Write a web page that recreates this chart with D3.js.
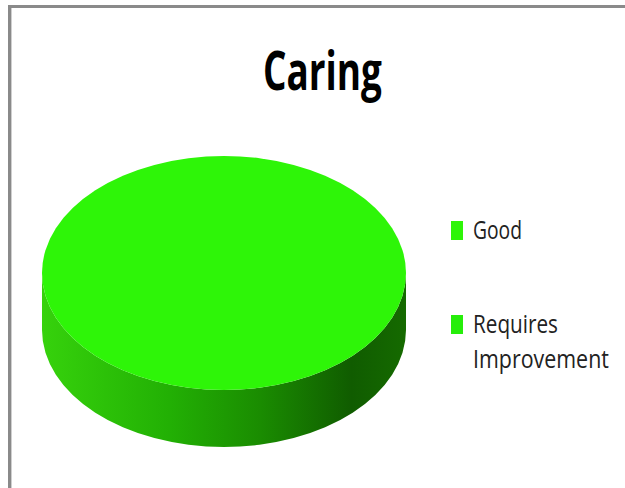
<!DOCTYPE html>
<html>
<head>
<meta charset="utf-8">
<script src="https://cdn.jsdelivr.net/npm/d3@7"></script>
<style>
  body { margin: 0; background: #fff; }
  svg { display: block; }
</style>
</head>
<body>
<div id="chart"></div>
<script>
// chart data
const categories = ["Good", "Requires Improvement"]
const values = [100, 0]
const colors = ["#2ef508", "#26ee0a"]
const title = "Caring"

const width = 625
const height = 488

// pie geometry (3D look: squashed ellipse with a side wall)
const cx = 224, cy = 273, rx = 182, ry = 117, depth = 57

const svg = d3.select("#chart")
  .append("svg")
  .attr("width", width)
  .attr("height", height)

// squeeze a text horizontally to a given width (Calibri-like narrow look)
function narrowText(sel, x, y, w, text) {
  const t = sel.append("text")
    .attr("x", 0).attr("y", 0)
    .text(text)
  return t
}
function fitText(t, x, y, w) {
  const natural = t.node().getComputedTextLength()
  t.attr("transform", "translate(" + x + "," + y + ") scale(" + (w / natural) + ",1)")
}

// gradient for the side wall
const defs = svg.append("defs")
const grad = defs.append("linearGradient")
  .attr("id", "side")
  .attr("gradientUnits", "userSpaceOnUse")
  .attr("x1", cx - rx).attr("x2", cx + rx)
  .attr("y1", 0).attr("y2", 0)
grad.selectAll("stop")
  .data([[0, "#36d20c"], [0.35, "#22b004"], [0.6, "#1a8c01"], [0.85, "#105c00"], [1, "#156a00"]])
  .enter().append("stop")
  .attr("offset", d => d[0])
  .attr("stop-color", d => d[1])

// border (only top and left show in the picture)
svg.append("rect").attr("x", 8).attr("y", 5).attr("width", width - 8).attr("height", 3).attr("fill", "#8a8a8a")
svg.append("rect").attr("x", 8).attr("y", 5).attr("width", 3).attr("height", height - 5).attr("fill", "#8a8a8a")
svg.append("rect").attr("x", 11).attr("y", 8).attr("width", 1).attr("height", height - 8).attr("fill", "#cfcfcf")

// title
const titleText = narrowText(svg, 263, 90, 119, title)
  .style("font-family", "'Open Sans', sans-serif")
  .style("font-weight", "bold")
  .style("font-size", "54px")
  .style("fill", "#000")
fitText(titleText, 263, 90, 119)

const pie = d3.pie().sort(null).value(d => d)
const arcs = pie(values)

const px = a => cx + rx * Math.sin(a)
const py = a => cy - ry * Math.cos(a)

// side wall: visible front part between angle PI/2 and 3PI/2
function wallPath(a0, a1) {
  const s = Math.max(a0, Math.PI / 2)
  const e = Math.min(a1, 3 * Math.PI / 2)
  if (e <= s) return null
  const large = (e - s) > Math.PI ? 1 : 0
  return "M" + px(s) + "," + py(s) +
    "A" + rx + "," + ry + " 0 " + large + " 1 " + px(e) + "," + py(e) +
    "L" + px(e) + "," + (py(e) + depth) +
    "A" + rx + "," + ry + " 0 " + large + " 0 " + px(s) + "," + (py(s) + depth) + "Z"
}

const g = svg.append("g")

g.selectAll("path.wall")
  .data(arcs.filter(d => d.endAngle > d.startAngle))
  .enter()
  .append("path")
  .attr("class", "wall")
  .attr("d", d => wallPath(d.startAngle, d.endAngle))
  .attr("fill", "url(#side)")

// top face, drawn with d3.arc on a unit circle then squashed
const arc = d3.arc().innerRadius(0).outerRadius(1)
g.selectAll("path.top")
  .data(arcs.filter(d => d.endAngle > d.startAngle))
  .enter()
  .append("path")
  .attr("class", "top")
  .attr("d", arc)
  .attr("transform", "translate(" + cx + "," + cy + ") scale(" + rx + "," + ry + ")")
  .attr("fill", d => colors[d.index])

// legend
const legend = svg.append("g")
const legendRows = [
  { lines: ["Good"], y: 239, len: [49] },
  { lines: ["Requires", "Improvement"], y: 333, len: [85, 136] }
]

legendRows.forEach((row, i) => {
  legend.append("rect")
    .attr("x", 451)
    .attr("y", row.y - 18)
    .attr("width", 12)
    .attr("height", 19)
    .attr("fill", colors[i])

  row.lines.forEach((t, j) => {
    const lt = narrowText(legend, 473, row.y + j * 35, row.len[j], t)
      .style("font-family", "'Open Sans', sans-serif")
      .style("font-size", "26px")
      .style("fill", "#222")
    fitText(lt, 473, row.y + j * 35, row.len[j])
  })
})
</script>
</body>
</html>
